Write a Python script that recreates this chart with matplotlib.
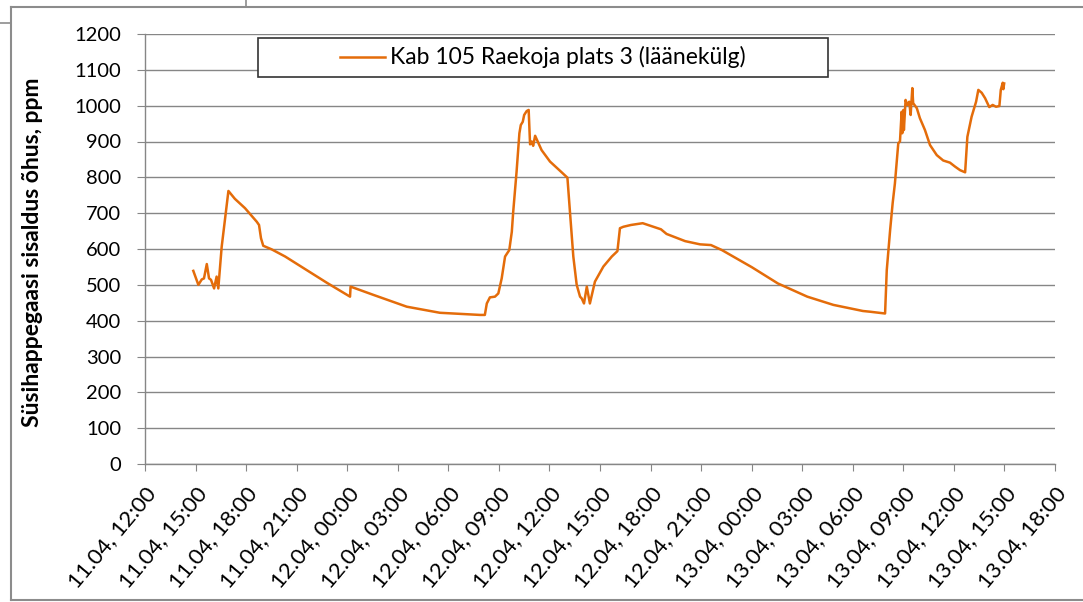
import numpy as np
import pandas as pd
import matplotlib
matplotlib.use("Agg")
import matplotlib.pyplot as plt
import matplotlib.dates as mdates
from matplotlib.lines import Line2D
from matplotlib.patches import Rectangle

plt.rcParams['font.family'] = ['Lato', 'DejaVu Sans']

# CO2 mõõtmised (aeg, ppm)
times = [
    "11.04 14:52", "11.04 15:10", "11.04 15:22", "11.04 15:30", "11.04 15:40",
    "11.04 15:48", "11.04 15:55", "11.04 16:06", "11.04 16:15", "11.04 16:21",
    "11.04 16:33", "11.04 16:57", "11.04 17:20", "11.04 17:56", "11.04 18:38",
    "11.04 18:46", "11.04 18:53", "11.04 19:01", "11.04 19:31", "11.04 20:19",
    "11.04 21:36", "11.04 22:47",
    "12.04 00:10", "12.04 00:12", "12.04 01:33", "12.04 03:32", "12.04 05:30",
    "12.04 07:53", "12.04 08:10", "12.04 08:17", "12.04 08:28", "12.04 08:46",
    "12.04 08:58", "12.04 09:10", "12.04 09:22", "12.04 09:37", "12.04 09:46",
    "12.04 09:51", "12.04 10:03", "12.04 10:13", "12.04 10:18", "12.04 10:25",
    "12.04 10:30", "12.04 10:39", "12.04 10:46", "12.04 10:51", "12.04 10:57",
    "12.04 11:02", "12.04 11:09", "12.04 11:32", "12.04 12:02", "12.04 12:38",
    "12.04 13:04", "12.04 13:13", "12.04 13:25", "12.04 13:37", "12.04 13:49",
    "12.04 13:55", "12.04 14:03", "12.04 14:13", "12.04 14:24", "12.04 14:42",
    "12.04 15:12", "12.04 15:42", "12.04 16:02", "12.04 16:11", "12.04 16:23",
    "12.04 16:50", "12.04 17:32", "12.04 18:37", "12.04 18:57", "12.04 20:03",
    "12.04 20:56", "12.04 21:35", "12.04 22:14",
    "13.04 00:01", "13.04 01:33", "13.04 03:18", "13.04 04:51", "13.04 06:36",
    "13.04 07:01", "13.04 07:55", "13.04 08:01", "13.04 08:13", "13.04 08:22",
    "13.04 08:30", "13.04 08:42", "13.04 08:48", "13.04 08:54", "13.04 08:56",
    "13.04 09:00", "13.04 09:02", "13.04 09:08", "13.04 09:14", "13.04 09:21",
    "13.04 09:26", "13.04 09:32", "13.04 09:35", "13.04 09:48", "13.04 09:59",
    "13.04 10:17", "13.04 10:35", "13.04 10:59", "13.04 11:22", "13.04 11:46",
    "13.04 12:04", "13.04 12:22", "13.04 12:40", "13.04 12:48", "13.04 13:03",
    "13.04 13:19", "13.04 13:27", "13.04 13:39", "13.04 13:51", "13.04 14:06",
    "13.04 14:18", "13.04 14:30", "13.04 14:42", "13.04 14:47", "13.04 14:54",
    "13.04 14:56", "13.04 14:59",
]
co2 = [
    539, 500, 515, 518, 558,
    518, 514, 490, 523, 490,
    606, 762, 740, 714, 676,
    667, 630, 609, 599, 579,
    541, 506,
    467, 495, 472, 439, 422,
    416, 416, 448, 465, 467,
    476, 518, 579, 597, 648,
    704, 816, 923, 946, 955,
    974, 985, 988, 892, 900,
    888, 916, 876, 844, 818,
    799, 704, 579, 500, 467,
    462, 448, 495, 448, 509,
    551, 579, 594, 658, 662,
    667, 672, 655, 642, 622,
    613, 611, 597,
    549, 504, 467, 444, 427,
    425, 420, 541, 653, 728,
    783, 895, 900, 983, 923,
    988, 932, 1016, 1002, 1011,
    974, 1049, 1007, 993, 965,
    932, 890, 862, 847, 841,
    830, 820, 814, 913, 969,
    1011, 1044, 1036, 1021, 996,
    1002, 997, 999, 1044, 1064,
    1046, 1062,
]
series_label = "Kab 105 Raekoja plats 3 (läänekülg)"
y_label = "Süsihappegaasi sisaldus õhus, ppm"
y_ticks = list(range(0, 1201, 100))

t = pd.to_datetime(times, format="%d.%m %H:%M")
t_start = pd.to_datetime("11.04 12:00", format="%d.%m %H:%M")
t_end = pd.to_datetime("13.04 18:00", format="%d.%m %H:%M")
x_ticks = pd.date_range(t_start, t_end, freq="3h")

W, H = 1083, 602
fig = plt.figure(figsize=(W / 100, H / 100), dpi=100)
ax = fig.add_axes([145 / W, 1 - 464 / H, 910 / W, 430 / H])

ax.plot(t, co2, color="#E46C0A", lw=1.8, label=series_label)

grid_c = "#868686"
ax.set_ylim(0, 1200)
ax.set_yticks(y_ticks)
ax.set_xlim(t_start, t_end)
ax.set_xticks(x_ticks)
ax.xaxis.set_major_formatter(mdates.DateFormatter("%d.%m, %H:%M"))
ax.yaxis.grid(True, color=grid_c, lw=1)
ax.set_axisbelow(True)
for s in ["top", "right"]:
    ax.spines[s].set_visible(False)
for s in ["left", "bottom"]:
    ax.spines[s].set_color(grid_c)
    ax.spines[s].set_linewidth(1)
ax.tick_params(axis="y", length=6, color=grid_c, labelsize=14.5, pad=11)
ax.tick_params(axis="x", length=5, color=grid_c, labelsize=16, pad=9)
for lab in ax.get_xticklabels():
    lab.set_rotation(50)
    lab.set_ha("right")
    lab.set_va("top")
    lab.set_rotation_mode("anchor")

fig.text(33 / W, 1 - 252 / H, y_label, rotation=90, ha="center", va="center",
         fontsize=16.5, fontweight="bold")

# legendi kast
fig.add_artist(Rectangle((258 / W, 1 - 77 / H), 570 / W, 39 / H,
                         transform=fig.transFigure, facecolor="white",
                         edgecolor="#333333", lw=1.2, zorder=5))
fig.add_artist(Line2D([340 / W, 385 / W], [1 - 57 / H, 1 - 57 / H],
                      transform=fig.transFigure, color="#E46C0A", lw=1.8, zorder=6))
fig.text(390 / W, 1 - 57 / H, series_label, ha="left", va="center",
         fontsize=16.5, zorder=7)

# välimine raam
fc = "#8c8c8c"
fig.add_artist(Line2D([11 / W, 1], [1 - 7 / H, 1 - 7 / H], color=fc, lw=1.5))
fig.add_artist(Line2D([11 / W, 11 / W], [1 - 7 / H, 1 - 600 / H], color=fc, lw=1.5))
fig.add_artist(Line2D([11 / W, 1], [1 - 600 / H, 1 - 600 / H], color=fc, lw=1.5))
fig.add_artist(Line2D([0, 11 / W], [1 - 23 / H, 1 - 23 / H], color=fc, lw=1.2))
fig.add_artist(Line2D([246 / W, 246 / W], [1, 1 - 7 / H], color=fc, lw=1.2))

fig.savefig("out.png", dpi=100)
